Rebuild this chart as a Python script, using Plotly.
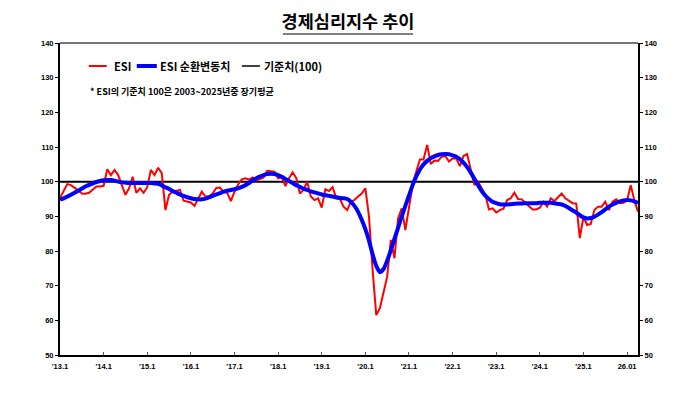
import plotly.graph_objects as go

# ---- data (monthly, Jan 2013 onward) ----
esi = [
    95.3, 97.5, 99.3, 99.0, 98.3, 97.5, 96.6, 96.5, 96.8, 97.6, 98.6, 98.6,      # 2013
    98.8, 103.6, 101.9, 103.4, 101.9, 99.0, 96.2, 98.1, 101.4, 96.8, 98.1, 96.8,  # 2014
    98.4, 103.4, 101.9, 104.0, 102.4, 91.8, 96.2, 97.1, 97.4, 97.6, 94.5, 94.3,   # 2015
    94.0, 93.0, 94.9, 97.1, 95.7, 95.7, 96.6, 98.2, 98.3, 97.0, 96.8, 94.4,       # 2016
    97.1, 99.2, 100.7, 101.0, 100.6, 101.2, 100.4, 100.7, 101.2, 103.1, 103.0, 102.9,  # 2017
    101.0, 101.3, 98.7, 101.0, 102.7, 101.0, 96.6, 97.6, 100.0, 95.7, 94.7, 95.2,  # 2018
    92.5, 97.8, 97.3, 98.4, 95.2, 95.0, 92.8, 91.8, 94.2, 94.7, 95.7, 96.6,       # 2019
    98.1, 89.9, 74.5, 61.5, 63.5, 67.8, 72.6, 83.2, 77.9, 89.4, 92.3, 86.0,       # 2020
    92.8, 99.0, 102.9, 106.4, 106.4, 110.6, 105.1, 106.1, 106.0, 107.2, 107.4, 105.8,  # 2021
    106.7, 106.7, 104.5, 107.4, 108.0, 103.4, 99.0, 100.0, 98.1, 96.2, 92.0, 92.3,  # 2022
    91.1, 91.8, 92.2, 94.7, 95.2, 96.8, 95.0, 94.9, 93.9, 92.8, 92.0, 92.0,       # 2023
    92.5, 94.2, 92.8, 95.2, 94.4, 95.5, 96.6, 95.2, 94.6, 93.8, 93.7, 83.7,       # 2024
    89.9, 87.5, 87.8, 91.8, 92.8, 92.8, 94.2, 91.8, 94.2, 94.9, 93.8, 93.9,       # 2025
    94.6, 99.0, 94.6, 91.3,                                                       # 2026
]
esi_cycle = [
    94.8, 95.2, 95.7, 96.2, 96.8, 97.4, 98.0, 98.6, 99.1, 99.5, 99.9, 100.2,
    100.4, 100.5, 100.5, 100.3, 100.0, 99.8, 99.7, 99.6, 99.6, 99.6, 99.6, 99.6,
    99.6, 99.6, 99.5, 99.4, 98.9, 98.4, 97.9, 97.3, 96.8, 96.3, 95.9, 95.5,
    95.2, 95.0, 94.9, 94.9, 95.1, 95.5, 95.9, 96.3, 96.7, 97.1, 97.4, 97.6,
    97.8, 98.1, 98.5, 99.0, 99.6, 100.4, 101.0, 101.5, 101.9, 102.2, 102.3, 102.2,
    101.9, 101.4, 100.8, 100.2, 99.6, 99.0, 98.5, 98.0, 97.6, 97.2, 96.9, 96.6,
    96.3, 96.1, 95.9, 95.7, 95.5, 95.3, 95.2, 95.0, 94.2, 93.0, 91.3, 89.0,
    86.3, 83.0, 79.0, 75.7, 73.9, 74.8, 77.2, 80.2, 83.5, 86.7, 89.9, 93.0,
    96.0, 99.0, 101.5, 103.5, 105.0, 106.0, 106.8, 107.3, 107.7, 107.9, 108.0, 107.9,
    107.6, 107.2, 106.5, 105.5, 104.2, 102.6, 100.8, 99.0, 97.3, 96.0, 95.0, 94.2,
    93.8, 93.5, 93.4, 93.4, 93.5, 93.6, 93.7, 93.7, 93.8, 93.8, 93.8, 93.8,
    93.9, 93.9, 93.9, 93.9, 93.8, 93.6, 93.4, 93.0, 92.4, 91.7, 91.1, 90.3,
    89.7, 89.4, 89.5, 89.9, 90.5, 91.2, 92.0, 92.8, 93.4, 93.9, 94.3, 94.6,
    94.7, 94.6, 94.3, 93.9,
]
baseline = 100
months = list(range(len(esi)))  # month index from 2013.1
tick_positions = [0, 12, 24, 36, 48, 60, 72, 84, 96, 108, 120, 132, 144, 156]
tick_labels = ["'13.1", "'14.1", "'15.1", "'16.1", "'17.1", "'18.1", "'19.1",
               "'20.1", "'21.1", "'22.1", "'23.1", "'24.1", "'25.1", "26.01"]
y_ticks = [50, 60, 70, 80, 90, 100, 110, 120, 130, 140]
legend_names = ["ESI", "ESI 순환변동치", "기준치(100)"]
note_text = "* ESI의 기준치 100은 2003~2025년중 장기평균"

KR = "Noto Sans CJK KR"
NUM = "Liberation Sans"
RED, BLUE, BLACK = "#ff0000", "#0000ff", "#000000"

# figure is placed 8px into the page by the default body margin
OFF = 8
L, T, R, B = 52.3, 35, 58.3, 51
PW = 688 - L - R
PH = 398 - T - B


def px(x_page):
    return (x_page - OFF - L) / PW


def py(y_page):
    return (T + PH - (y_page - OFF)) / PH


fig = go.Figure()
fig.add_trace(go.Scatter(x=[months[0], months[-1]], y=[baseline, baseline], mode="lines",
                         name=legend_names[2], line=dict(color=BLACK, width=2),
                         showlegend=False, hoverinfo="skip"))
fig.add_trace(go.Scatter(x=months, y=esi, mode="lines", name=legend_names[0],
                         line=dict(color=RED, width=2), showlegend=False))
fig.add_trace(go.Scatter(x=months, y=esi_cycle, mode="lines", name=legend_names[1],
                         line=dict(color=BLUE, width=4, shape="spline", smoothing=0.6),
                         showlegend=False, yaxis="y2"))

tickfont = dict(family=NUM, size=7.5, color="black", weight="bold")
fig.update_layout(
    width=688, height=398,
    margin=dict(l=L, r=R, t=T, b=B, autoexpand=False),
    paper_bgcolor="white", plot_bgcolor="white",
    title=dict(text="<b>경제심리지수 추이</b>", x=(348 - OFF) / 688, xanchor="center",
               y=1 - (22 - OFF) / 398, yanchor="middle",
               font=dict(family=KR, size=17.5, color="black")),
    xaxis=dict(range=[0, 159], tickvals=tick_positions, ticktext=tick_labels,
               showgrid=False, zeroline=False, showline=True, linecolor="black", linewidth=2,
               ticks="inside", ticklen=3, tickcolor="#555", tickwidth=1,
               ticklabelstandoff=3, tickfont=tickfont),
    yaxis=dict(range=[50, 140], tickvals=y_ticks, showgrid=False, zeroline=False,
               showline=True, linecolor="black", linewidth=2,
               ticks="outside", ticklen=3, tickcolor="black", tickfont=tickfont),
    yaxis2=dict(range=[50, 140], tickvals=y_ticks, overlaying="y", side="right",
                showgrid=False, zeroline=False, showline=True, linecolor="black", linewidth=2,
                ticks="outside", ticklen=3, tickcolor="black", tickfont=tickfont),
)

# top frame line
fig.add_shape(type="line", xref="paper", yref="paper", x0=0, x1=1, y0=1, y1=1,
              line=dict(color="#777777", width=2))
# title underline
fig.add_shape(type="line", xref="paper", yref="paper", x0=px(283), x1=px(413),
              y0=py(34), y1=py(34), line=dict(color="black", width=1.2))

# legend (drawn compactly like the original)
leg_y = py(66)
legend_items = [
    (89, 107, RED, 2, 112, legend_names[0]),
    (137, 157, BLUE, 4, 158, legend_names[1]),
    (242, 260, BLACK, 1.5, 262, legend_names[2]),
]
for x0, x1, col, w, tx, name in legend_items:
    fig.add_shape(type="line", xref="paper", yref="paper", x0=px(x0), x1=px(x1),
                  y0=leg_y, y1=leg_y, line=dict(color=col, width=w))
    fig.add_annotation(text=f"<b>{name}</b>", xref="paper", yref="paper", x=px(tx), y=leg_y,
                       xanchor="left", yanchor="middle", showarrow=False,
                       font=dict(family=KR, size=11, color="black"))

fig.add_annotation(text=f"<b>{note_text}</b>", xref="paper", yref="paper",
                   x=px(88), y=py(91), xanchor="left", yanchor="middle", showarrow=False,
                   font=dict(family=KR, size=9, color="black"))

fig.write_html("out.html")
